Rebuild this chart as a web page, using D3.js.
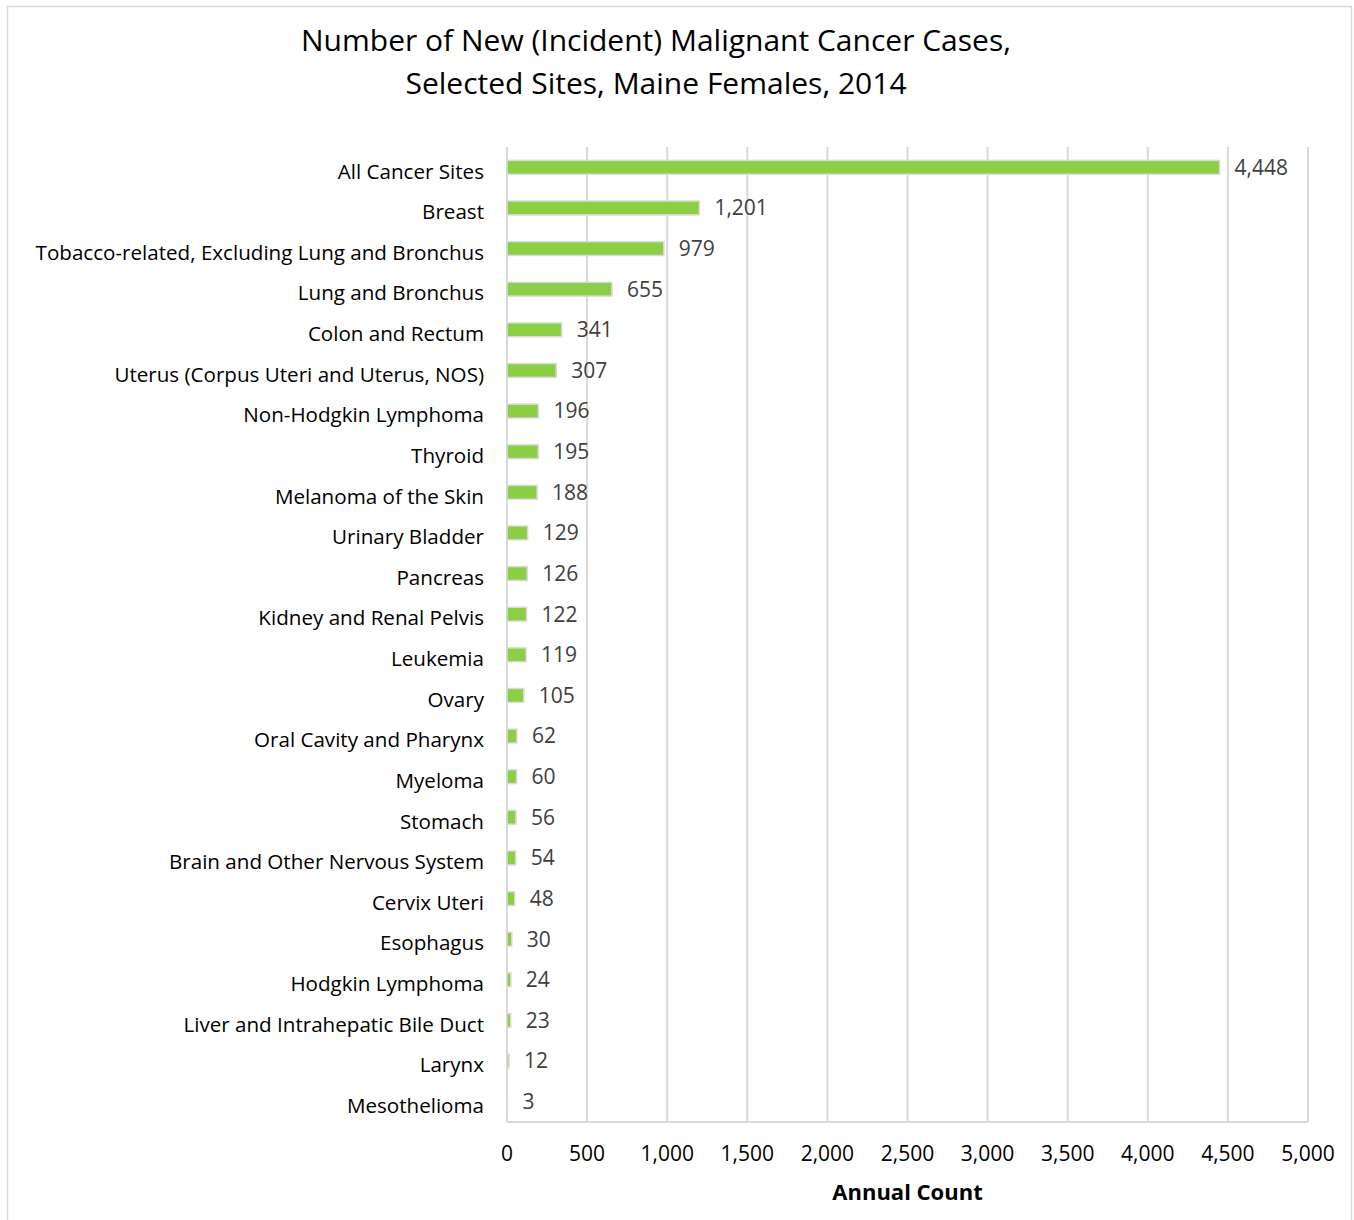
<!DOCTYPE html>
<html>
<head>
<meta charset="utf-8">
<script src="https://cdn.jsdelivr.net/npm/d3@7"></script>
<style>
  body { margin: 0; background: #fff; }
  text { font-family: "Open Sans", sans-serif; }
</style>
</head>
<body>
<div id="chart"></div>
<script>
// Chart data
var sites = ["All Cancer Sites", "Breast", "Tobacco-related, Excluding Lung and Bronchus",
  "Lung and Bronchus", "Colon and Rectum", "Uterus (Corpus Uteri and Uterus, NOS)",
  "Non-Hodgkin Lymphoma", "Thyroid", "Melanoma of the Skin", "Urinary Bladder", "Pancreas",
  "Kidney and Renal Pelvis", "Leukemia", "Ovary", "Oral Cavity and Pharynx", "Myeloma",
  "Stomach", "Brain and Other Nervous System", "Cervix Uteri", "Esophagus",
  "Hodgkin Lymphoma", "Liver and Intrahepatic Bile Duct", "Larynx", "Mesothelioma"];
var counts = [4448, 1201, 979, 655, 341, 307, 196, 195, 188, 129, 126, 122, 119, 105,
  62, 60, 56, 54, 48, 30, 24, 23, 12, 3];
var xTicks = [0, 500, 1000, 1500, 2000, 2500, 3000, 3500, 4000, 4500, 5000];

var width = 1354;
var height = 1220;
var margin = { top: 147, right: 46, bottom: 98, left: 507 };

var svg = d3.select("#chart")
  .append("svg")
  .attr("width", width)
  .attr("height", height);

// outer chart border
svg.append("rect")
  .attr("x", 7.5).attr("y", 6.5)
  .attr("width", 1344).attr("height", 1230)
  .attr("fill", "none")
  .attr("stroke", "#d9d9d9")
  .attr("stroke-width", 1.5);

var x = d3.scaleLinear()
  .domain([0, 5000])
  .range([margin.left, width - margin.right]);

var y = d3.scaleBand()
  .domain(sites)
  .range([margin.top, height - margin.bottom])
  .paddingInner(0.66)
  .paddingOuter(0.33);

// gridlines
svg.append("g")
  .selectAll("line")
  .data(xTicks)
  .enter().append("line")
  .attr("x1", function(d) { return x(d); })
  .attr("x2", function(d) { return x(d); })
  .attr("y1", margin.top)
  .attr("y2", height - margin.bottom)
  .attr("stroke", "#d9d9d9")
  .attr("stroke-width", 2);

// baseline at bottom
svg.append("line")
  .attr("x1", x(0)).attr("x2", x(5000))
  .attr("y1", height - margin.bottom).attr("y2", height - margin.bottom)
  .attr("stroke", "#d9d9d9")
  .attr("stroke-width", 2);

// bars
svg.append("g")
  .selectAll("rect")
  .data(counts)
  .enter().append("rect")
  .attr("x", x(0))
  .attr("y", function(d, i) { return y(sites[i]); })
  .attr("width", function(d) { return x(d) - x(0); })
  .attr("height", y.bandwidth())
  .attr("fill", "#8ccf44")
  .attr("stroke", "#d9d9d9")
  .attr("stroke-width", 1.5);

// value labels
svg.append("g")
  .selectAll("text")
  .data(counts)
  .enter().append("text")
  .attr("x", function(d) { return x(d) + 15; })
  .attr("y", function(d, i) { return y(sites[i]) + y.bandwidth() / 2; })
  .attr("dy", "0.35em")
  .attr("fill", "#404040")
  .style("font-size", "21px")
  .text(function(d) { return d3.format(",")(d); });

// category labels
svg.append("g")
  .selectAll("text")
  .data(sites)
  .enter().append("text")
  .attr("x", margin.left - 23)
  .attr("y", function(d) { return y(d) + y.bandwidth() / 2 + 4; })
  .attr("dy", "0.35em")
  .attr("text-anchor", "end")
  .attr("fill", "#000")
  .style("font-size", "20.6px")
  .text(function(d) { return d; });

// x tick labels
svg.append("g")
  .selectAll("text")
  .data(xTicks)
  .enter().append("text")
  .attr("x", function(d) { return x(d); })
  .attr("y", height - margin.bottom + 32)
  .attr("dy", "0.35em")
  .attr("text-anchor", "middle")
  .attr("fill", "#000")
  .style("font-size", "21px")
  .text(function(d) { return d3.format(",")(d); });

// axis title
svg.append("text")
  .attr("x", (x(0) + x(5000)) / 2)
  .attr("y", 1192)
  .attr("dy", "0.35em")
  .attr("text-anchor", "middle")
  .style("font-size", "22px")
  .style("font-weight", "bold")
  .text("Annual Count");

// chart title
var title = ["Number of New (Incident) Malignant Cancer Cases,", "Selected Sites, Maine Females, 2014"];
svg.append("g")
  .selectAll("text")
  .data(title)
  .enter().append("text")
  .attr("x", 656)
  .attr("y", function(d, i) { return 40 + i * 43; })
  .attr("dy", "0.35em")
  .attr("text-anchor", "middle")
  .style("font-size", "30px")
  .text(function(d) { return d; });
</script>
</body>
</html>
